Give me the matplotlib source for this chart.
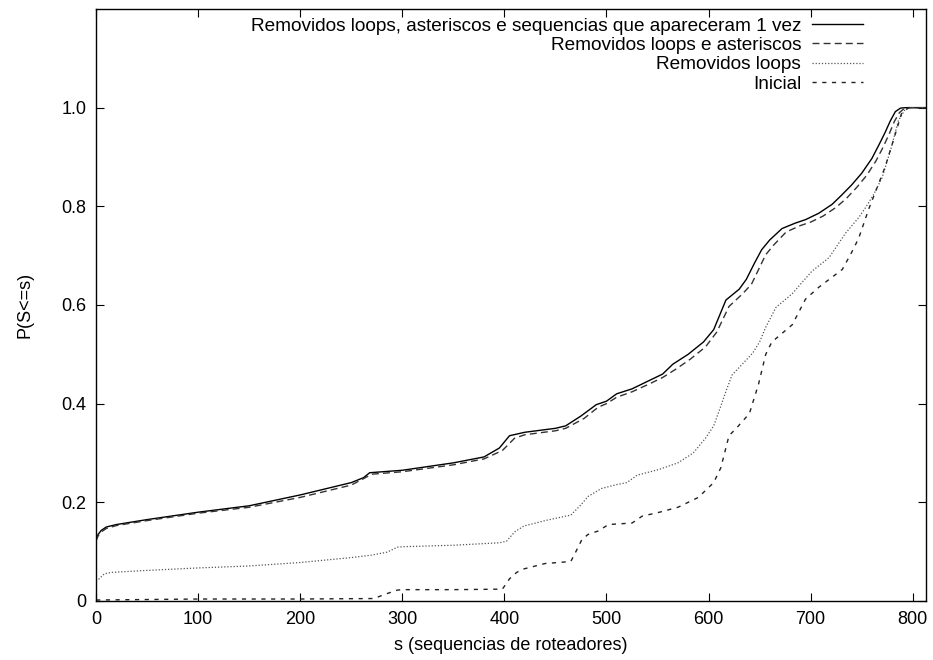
import matplotlib
matplotlib.use('Agg')
import matplotlib.pyplot as plt

plt.rcParams['font.family'] = ['Liberation Sans', 'DejaVu Sans']

# Removidos loops, asteriscos e sequencias que apareceram 1 vez
s_a = [0, 2, 5, 10, 20, 50, 100, 150, 200, 250, 262, 268, 300, 350, 380, 395, 405,
       420, 450, 460, 475, 490, 500, 510, 525, 542, 555, 565, 580, 595, 605, 617,
       630, 637, 645, 652, 660, 672, 685, 695, 708, 721, 730, 740, 750, 760, 767,
       773, 778, 783, 788, 793, 813]
p_a = [0.125, 0.135, 0.143, 0.150, 0.155, 0.165, 0.180, 0.193, 0.215, 0.240, 0.250,
       0.260, 0.265, 0.280, 0.292, 0.310, 0.335, 0.342, 0.350, 0.355, 0.375, 0.398,
       0.405, 0.420, 0.430, 0.447, 0.460, 0.480, 0.500, 0.525, 0.550, 0.610, 0.632,
       0.652, 0.685, 0.712, 0.732, 0.755, 0.766, 0.773, 0.786, 0.804, 0.822, 0.843,
       0.867, 0.897, 0.925, 0.950, 0.973, 0.992, 0.999, 1.0, 1.0]

# Removidos loops e asteriscos
s_b = [0, 2, 5, 10, 20, 50, 100, 150, 200, 250, 262, 270, 300, 350, 380, 398, 410,
       420, 450, 460, 478, 492, 500, 510, 525, 542, 555, 568, 582, 597, 608, 620,
       633, 642, 649, 656, 664, 676, 690, 700, 712, 725, 735, 745, 755, 764, 771,
       777, 782, 787, 791, 797, 813]
p_b = [0.122, 0.132, 0.140, 0.147, 0.153, 0.163, 0.178, 0.190, 0.210, 0.235, 0.248,
       0.257, 0.262, 0.276, 0.288, 0.305, 0.330, 0.337, 0.345, 0.350, 0.370, 0.393,
       0.400, 0.413, 0.424, 0.440, 0.453, 0.470, 0.490, 0.515, 0.545, 0.597, 0.622,
       0.642, 0.672, 0.702, 0.722, 0.748, 0.761, 0.768, 0.780, 0.798, 0.816, 0.838,
       0.863, 0.892, 0.920, 0.947, 0.972, 0.990, 0.997, 1.0, 1.0]

# Removidos loops
s_c = [0, 3, 8, 15, 50, 100, 150, 200, 250, 270, 285, 295, 300, 350, 395, 402, 410,
       419, 440, 460, 465, 475, 482, 495, 510, 520, 530, 552, 570, 585, 597, 605,
       612, 617, 623, 633, 643, 650, 656, 666, 682, 701, 718, 734, 747, 754, 762,
       770, 779, 786, 793, 800, 813]
p_c = [0.040, 0.045, 0.055, 0.058, 0.062, 0.067, 0.071, 0.078, 0.088, 0.093, 0.099,
       0.109, 0.110, 0.113, 0.118, 0.121, 0.140, 0.152, 0.163, 0.172, 0.174, 0.195,
       0.212, 0.228, 0.236, 0.240, 0.255, 0.267, 0.280, 0.300, 0.330, 0.355, 0.395,
       0.425, 0.458, 0.480, 0.502, 0.525, 0.555, 0.595, 0.623, 0.668, 0.696, 0.745,
       0.777, 0.798, 0.825, 0.858, 0.919, 0.974, 0.998, 1.0, 1.0]

# Inicial
s_d = [0, 50, 100, 150, 200, 272, 285, 295, 300, 350, 398, 405, 412, 419, 440, 465,
       470, 476, 482, 492, 502, 525, 535, 552, 570, 590, 605, 612, 620, 628, 640,
       649, 656, 662, 682, 695, 708, 731, 740, 747, 757, 773, 783, 789, 796, 813]
p_d = [0.002, 0.003, 0.004, 0.004, 0.004, 0.005, 0.015, 0.022, 0.023, 0.023, 0.024,
       0.045, 0.058, 0.065, 0.076, 0.080, 0.100, 0.125, 0.135, 0.142, 0.155, 0.158,
       0.172, 0.180, 0.190, 0.210, 0.240, 0.270, 0.335, 0.352, 0.380, 0.440, 0.500,
       0.525, 0.560, 0.612, 0.636, 0.672, 0.706, 0.735, 0.795, 0.880, 0.947, 0.988,
       1.0, 1.0]

x_ticks = [0, 100, 200, 300, 400, 500, 600, 700, 800]
y_ticks = [0, 0.2, 0.4, 0.6, 0.8, 1.0]
y_labels = ['0', '0.2', '0.4', '0.6', '0.8', '1.0']

fig = plt.figure(figsize=(9.33, 6.6), dpi=100)
ax = fig.add_axes([0.103, 0.0894, 0.8895, 0.897])

ax.plot(s_a, p_a, color='black', lw=1.0, ls='-',
        label='Removidos loops, asteriscos e sequencias que apareceram 1 vez')
ax.plot(s_b, p_b, color='#333333', lw=1.0, ls=(0, (5, 3)),
        label='Removidos loops e asteriscos')
ax.plot(s_c, p_c, color='#555555', lw=0.9, ls=(0, (1, 1.5)),
        label='Removidos loops')
ax.plot(s_d, p_d, color='#222222', lw=1.0, ls=(0, (3, 4)),
        label='Inicial')

ax.set_xlim(0, 813)
ax.set_ylim(0, 1.2)
ax.set_xticks(x_ticks)
ax.set_yticks(y_ticks)
ax.set_yticklabels(y_labels)
ax.tick_params(direction='in', length=6, width=0.8, top=True, right=True,
               labelsize=13, pad=7)
for sp in ax.spines.values():
    sp.set_linewidth(1.0)

ax.set_xlabel('s (sequencias de roteadores)', fontsize=13, labelpad=7)
ax.set_ylabel('P(S<=s)', fontsize=13, labelpad=20)

ax.legend(loc='upper right', bbox_to_anchor=(0.94, 1.008), frameon=False,
          markerfirst=False, fontsize=13.7, handlelength=2.65, labelspacing=0.1,
          handletextpad=0.6, borderpad=0.2)

plt.savefig('out.png', dpi=100)
